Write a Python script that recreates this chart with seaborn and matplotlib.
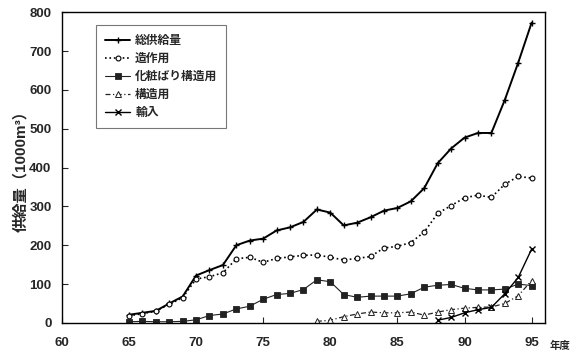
import numpy as np
import pandas as pd
import seaborn as sns
import matplotlib.pyplot as plt

YEARS = list(range(65, 96))
NAN = np.nan

# 総供給量
TOTAL = [21, 26, 31, 50, 68, 122, 136, 149, 200, 212, 217, 238, 246, 260, 292, 284,
         251, 258, 272, 289, 296, 313, 347, 411, 449, 477, 489, 489, 574, 670, 773]
# 造作用
ZOSAKU = [18, 24, 30, 48, 65, 113, 119, 129, 165, 169, 156, 166, 170, 174, 175, 169,
          162, 166, 171, 193, 197, 207, 234, 282, 302, 322, 329, 323, 357, 377, 373]
# 化粧ばり構造用
KESHO = [3, 4, 3, 3, 4, 8, 19, 23, 36, 43, 61, 73, 76, 86, 111, 106,
         73, 66, 69, 69, 69, 75, 92, 97, 99, 89, 85, 85, 87, 100, 96]
# 構造用
KOZO = [NAN] * 14 + [4, 7, 16, 23, 28, 26, 26, 28, 20, 28, 34, 38, 40, 41, 50, 70, 109]
# 輸入
YUNYU = [NAN] * 23 + [7, 14, 26, 34, 40, 75, 117, 190]

LABELS = ['総供給量', '造作用', '化粧ばり構造用', '構造用', '輸入']

sns.set_style('ticks')
plt.rcParams['font.family'] = ['Liberation Sans', 'Noto Sans CJK JP', 'DejaVu Sans']
JP = ['Noto Sans CJK JP', 'DejaVu Sans']
MIX = ['Liberation Sans', 'Noto Sans CJK JP', 'DejaVu Sans']

fig = plt.figure(figsize=(5.78, 3.58), dpi=100)
ax = fig.add_axes([0.107, 0.098, 0.836, 0.868])

series = [TOTAL, ZOSAKU, KESHO, KOZO, YUNYU]
styles = [
    dict(marker='+', markersize=5, markeredgewidth=1.0, linestyle='-', linewidth=1.4, color='black'),
    dict(marker='o', markersize=3.5, markeredgewidth=0.8, markerfacecolor='white',
         linestyle=':', linewidth=1.2, color='black'),
    dict(marker='s', markersize=3.8, markeredgewidth=0.6, linestyle='-', linewidth=0.8, color='#222222'),
    dict(marker='^', markersize=3.8, markeredgewidth=0.7, markerfacecolor='white',
         linestyle=(0, (4, 2, 1, 2)), linewidth=0.9, color='#222222'),
    dict(marker='x', markersize=4, markeredgewidth=1.0, linestyle='-', linewidth=1.0, color='black'),
]

for vals, lab, st in zip(series, LABELS, styles):
    df = pd.DataFrame({'year': YEARS, 'value': vals}).dropna()
    st = dict(st, markeredgecolor=st['color'])
    sns.lineplot(data=df, x='year', y='value', ax=ax, label=lab, **st)

ax.set_xlim(60, 96)
ax.set_ylim(0, 800)
ax.set_xticks(range(60, 96, 5))
ax.set_yticks(range(0, 801, 100))
ax.tick_params(direction='in', length=4, width=0.8, labelsize=9.5)
ax.tick_params(axis='x', pad=10)
ax.tick_params(axis='y', pad=7.5)
for t in ax.get_xticklabels() + ax.get_yticklabels():
    t.set_fontweight('bold')
for s in ax.spines.values():
    s.set_visible(True)
    s.set_linewidth(1.0)
    s.set_color('black')

ax.set_xlabel('')
ax.set_ylabel('供給量（1000m³）', family=MIX, fontsize=11, fontweight='bold', labelpad=1)
ax.text(1.03, -0.075, '年度', transform=ax.transAxes, family=JP, fontsize=7.5,
        fontweight='bold', ha='center', va='center')

leg = ax.legend(loc='upper left', bbox_to_anchor=(0.07, 0.958), borderaxespad=0,
                fancybox=False, frameon=True, edgecolor='#555555', handlelength=2.2,
                labelspacing=0.42, borderpad=0.75, handletextpad=0.4,
                prop={'family': JP, 'size': 8.5, 'weight': 'bold'})
leg.get_frame().set_linewidth(0.8)

fig.savefig('out.png', dpi=100)
